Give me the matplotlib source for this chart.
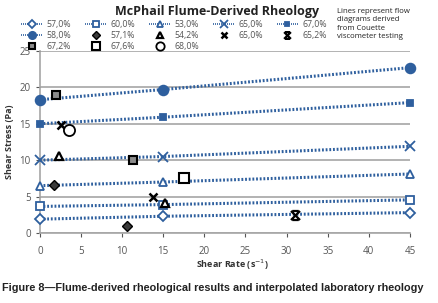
import numpy as np
import matplotlib
matplotlib.use('Agg')
import matplotlib.pyplot as plt
from matplotlib.path import Path

# Lineas de laboratorio (viscosimetro Couette)
shear_rate = [0, 15, 45]
line_labels = ['57,0%', '60,0%', '53,0%', '65,0%', '67,0%', '58,0%']
line_values = [
    [1.9, 2.3, 2.8],
    [3.65, 3.9, 4.55],
    [6.5, 7.0, 8.1],
    [10.0, 10.5, 11.9],
    [15.0, 15.9, 17.9],
    [18.3, 19.7, 22.7],
]
line_markers = ['D', 's', '^', 'x', 's', 'o']
line_msize = [5, 6, 6, 7, 4, 7]
line_filled = [False, False, False, False, True, True]

# Puntos del canal (flume)
pt_labels = ['57,1%', '54,2%', '65,0%', '65,2%', '67,2%', '67,6%', '68,0%']
pt_x = [[1.7, 10.6], [2.3, 15.2], [2.6, 13.8], [31.0], [2.0, 11.3], [17.5], [3.6]]
pt_y = [[6.6, 1.0], [10.6, 4.1], [14.8, 5.0], [2.5], [18.9, 10.0], [7.5], [14.1]]

star = Path([(-1, -1), (1, 1), (-1, 1), (1, -1), (-0.7, 1), (0.7, 1), (-0.7, -1), (0.7, -1)],
            [Path.MOVETO, Path.LINETO, Path.MOVETO, Path.LINETO,
             Path.MOVETO, Path.LINETO, Path.MOVETO, Path.LINETO])
pt_style = [
    dict(marker='D', mfc='#3a3a3a', mec='black', ms=5.5),
    dict(marker='^', mfc='white', mec='black', ms=6, mew=1.6),
    dict(marker='x', mfc='black', mec='black', ms=6, mew=1.8),
    dict(marker=star, mfc='black', mec='black', ms=6.5, mew=1.6),
    dict(marker='s', mfc='#8c8c8c', mec='black', ms=6, mew=1.5),
    dict(marker='s', mfc='white', mec='black', ms=7, mew=1.5),
    dict(marker='o', mfc='white', mec='black', ms=8, mew=1.3),
]

blue = '#2e5f9e'
plt.rcParams['font.family'] = ['Open Sans', 'DejaVu Sans']

fig = plt.figure(figsize=(4.38, 3.03), dpi=100)
ax = fig.add_axes([0.091, 0.231, 0.845, 0.601])

handles = {}
for lab, vals, m, ms, filled in zip(line_labels, line_values, line_markers, line_msize, line_filled):
    h, = ax.plot(shear_rate, vals, color=blue, lw=2.2, ls=(0, (0.6, 0.6)), marker=m, ms=ms,
                 mfc=blue if filled else 'white', mec=blue, mew=1.3, clip_on=False, zorder=3,
                 label=lab)
    handles[lab] = h

phandles = []
for lab, xs, ys, st in zip(pt_labels, pt_x, pt_y, pt_style):
    h, = ax.plot(xs, ys, ls='none', clip_on=False, zorder=4, label=lab, **st)
    phandles.append(h)

ax.set_xlim(0, 45)
ax.set_ylim(0, 25)
ax.set_xticks(range(0, 50, 5))
ax.set_yticks(range(0, 30, 5))
ax.tick_params(labelsize=7, colors='#555555', length=3, width=0.8)
ax.tick_params(axis='x', pad=6)
ax.yaxis.grid(True, color='#a6a6a6', lw=1.2)
ax.set_axisbelow(True)
for s in ['top', 'right']:
    ax.spines[s].set_visible(False)
for s in ['left', 'bottom']:
    ax.spines[s].set_color('#a6a6a6')
    ax.spines[s].set_linewidth(1.2)

ax.set_xlabel('Shear Rate (s$^{-1}$)', fontsize=6.5, fontweight='bold', color='#333333')
ax.xaxis.set_label_coords(0.52, -0.135)
ax.set_ylabel('Shear Stress (Pa)', fontsize=6.5, fontweight='bold', color='#333333', labelpad=4)

order = [handles['57,0%'], handles['58,0%'], phandles[4],
         handles['60,0%'], phandles[0], phandles[5],
         handles['53,0%'], phandles[1], phandles[6],
         handles['65,0%'], phandles[2],
         handles['67,0%'], phandles[3]]
leg = fig.legend(handles=order, labels=[h.get_label() for h in order], ncol=5,
                 loc='upper left', bbox_to_anchor=(0.04, 0.945), frameon=False,
                 fontsize=6.3, labelcolor='#555555', handlelength=2.4, handletextpad=0.5,
                 columnspacing=1.6, labelspacing=0.2, borderaxespad=0, markerscale=0.75)
for lh in leg.get_lines():
    lh.set_linewidth(1.2)

fig.text(0.495, 0.962, 'McPhail Flume-Derived Rheology', ha='center', va='center',
         fontsize=9, fontweight='bold', color='#222222')
fig.text(0.77, 0.975, 'Lines represent flow\ndiagrams derived\nfrom Couette\nviscometer testing',
         ha='left', va='top', fontsize=5.6, color='#222222', linespacing=1.3)
fig.text(0.005, 0.048, 'Figure 8\u2014Flume-derived rheological results and interpolated laboratory rheology',
         ha='left', va='center', fontsize=7.8, fontweight='bold', color='#222222',
         family='Liberation Sans')

fig.savefig('out.png', dpi=100)
